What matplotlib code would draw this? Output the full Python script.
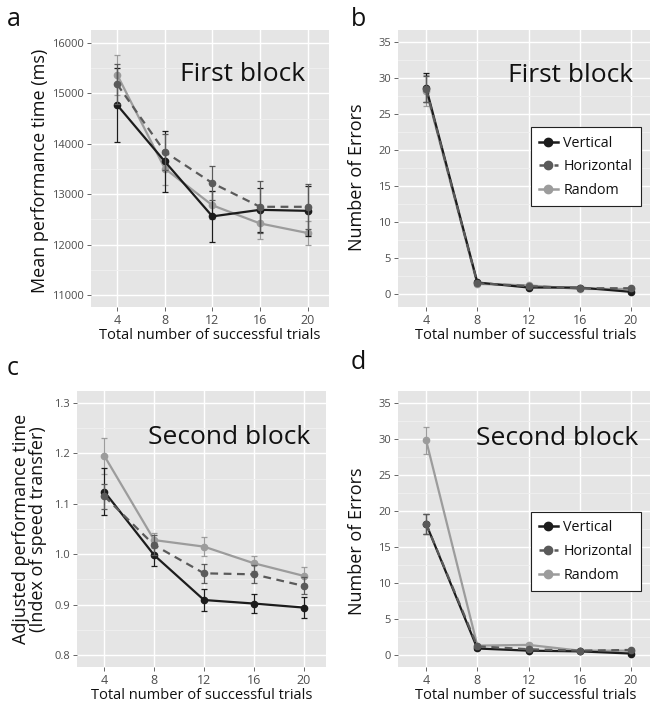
import matplotlib
matplotlib.use("Agg")
import matplotlib.pyplot as plt
from matplotlib.lines import Line2D
from matplotlib.ticker import MultipleLocator

plt.rcParams['font.family'] = ['Open Sans', 'DejaVu Sans']

# x positions (total number of successful trials)
trials = [4, 8, 12, 16, 20]
groups = ['Vertical', 'Horizontal', 'Random']

# a: mean performance time, first block (ms)
a_vert = [14770, 13650, 12560, 12690, 12670]
a_vert_err = [740, 610, 500, 430, 500]
a_horiz = [15180, 13840, 13220, 12750, 12750]
a_horiz_err = [400, 350, 340, 510, 450]
a_rand = [15370, 13510, 12780, 12420, 12230]
a_rand_err = [400, 330, 280, 300, 230]

# b: number of errors, first block
b_vert = [28.6, 1.6, 0.9, 0.9, 0.3]
b_vert_err = [2.0, 0.2, 0.2, 0.2, 0.2]
b_horiz = [28.4, 1.5, 1.1, 0.8, 0.8]
b_horiz_err = [1.8, 0.2, 0.2, 0.2, 0.2]
b_rand = [28.2, 1.4, 1.2, 0.7, 0.7]
b_rand_err = [2.2, 0.2, 0.2, 0.2, 0.2]

# c: adjusted performance time, second block
c_vert = [1.124, 0.998, 0.909, 0.902, 0.894]
c_vert_err = [0.047, 0.022, 0.022, 0.018, 0.021]
c_horiz = [1.115, 1.018, 0.962, 0.960, 0.937]
c_horiz_err = [0.025, 0.020, 0.019, 0.018, 0.017]
c_rand = [1.195, 1.028, 1.015, 0.982, 0.957]
c_rand_err = [0.035, 0.015, 0.019, 0.015, 0.017]

# d: number of errors, second block
d_vert = [18.2, 0.9, 0.6, 0.5, 0.2]
d_vert_err = [1.45, 0.2, 0.15, 0.15, 0.1]
d_horiz = [18.2, 1.2, 0.8, 0.6, 0.7]
d_horiz_err = [1.45, 0.2, 0.15, 0.15, 0.15]
d_rand = [29.8, 1.3, 1.4, 0.6, 0.6]
d_rand_err = [1.9, 0.2, 0.2, 0.15, 0.15]

colors = {'Vertical': '#1c1c1c', 'Horizontal': '#5a5a5a', 'Random': '#9c9c9c'}
styles = {'Vertical': '-', 'Horizontal': (0, (3.5, 2.5)), 'Random': '-'}
zorders = {'Vertical': 4, 'Horizontal': 5, 'Random': 3}
TXT = '#111111'

W, H = 650, 706
fig = plt.figure(figsize=(W / 100, H / 100), dpi=100)


def px_axes(left, top, right, bottom):
    return fig.add_axes([left / W, 1 - bottom / H, (right - left) / W, (bottom - top) / H])


def style_axes(ax, ylim, ymajor, yfmt=None):
    ax.set_facecolor('#e5e5e5')
    for s in ax.spines.values():
        s.set_visible(False)
    ax.set_xlim(1.8, 21.8)
    ax.set_ylim(*ylim)
    ax.set_xticks(trials)
    ax.yaxis.set_major_locator(MultipleLocator(ymajor))
    ax.yaxis.set_minor_locator(MultipleLocator(ymajor / 2))
    ax.grid(which='major', color='white', lw=1.0)
    ax.grid(which='minor', axis='y', color='#f0f0f0', lw=0.6)
    ax.tick_params(which='major', length=3, width=0.6, color='#4d4d4d',
                   labelcolor='#4d4d4d', pad=2)
    ax.tick_params(which='minor', length=0)
    ax.tick_params(axis='x', labelsize=9)
    ax.tick_params(axis='y', labelsize=8)
    if yfmt:
        ax.yaxis.set_major_formatter(yfmt)
    ax.set_axisbelow(True)
    ax.set_xlabel('Total number of successful trials', fontsize=10.5, color=TXT)
    ax.xaxis.set_label_coords(0.5, -0.075)


def draw(ax, vals, errs):
    for g in groups:
        ax.errorbar(trials, vals[g], yerr=errs[g], color=colors[g], ls=styles[g],
                    lw=1.6, marker='o', ms=4.5, capsize=2.2, elinewidth=0.9,
                    capthick=0.9, zorder=zorders[g])


def add_legend(ax, anchor):
    handles = [Line2D([], [], color=colors[g], ls=styles[g], lw=1.8, marker='o', ms=6)
               for g in groups]
    leg = ax.legend(handles, groups, loc='upper right', bbox_to_anchor=anchor,
                    borderaxespad=0, fontsize=10.3, frameon=True, fancybox=False,
                    handlelength=1.3, handletextpad=0.4, borderpad=0.6,
                    labelspacing=0.6)
    for t in leg.get_texts():
        t.set_color(TXT)
    leg.get_frame().set_edgecolor('#222222')
    leg.get_frame().set_linewidth(0.8)
    leg.get_frame().set_facecolor('white')
    leg.get_frame().set_alpha(1)


# panel a
ax_a = px_axes(91, 30, 329, 307)
style_axes(ax_a, (10762, 16258), 1000)
draw(ax_a, {'Vertical': a_vert, 'Horizontal': a_horiz, 'Random': a_rand},
     {'Vertical': a_vert_err, 'Horizontal': a_horiz_err, 'Random': a_rand_err})
ax_a.set_ylabel('Mean performance time (ms)', fontsize=13, color=TXT)
ax_a.yaxis.set_label_coords(-0.175, 0.49)
ax_a.text(0.9, 0.84, 'First block', transform=ax_a.transAxes, ha='right',
          va='center', fontsize=19, color=TXT)

# panel b
ax_b = px_axes(398, 30, 654, 307)
style_axes(ax_b, (-1.8, 36.6), 5)
draw(ax_b, {'Vertical': b_vert, 'Horizontal': b_horiz, 'Random': b_rand},
     {'Vertical': b_vert_err, 'Horizontal': b_horiz_err, 'Random': b_rand_err})
ax_b.set_ylabel('Number of Errors', fontsize=13, color=TXT)
ax_b.yaxis.set_label_coords(-0.125, 0.47)
ax_b.text(0.918, 0.835, 'First block', transform=ax_b.transAxes, ha='right',
          va='center', fontsize=19, color=TXT)
add_legend(ax_b, (0.949, 0.65))

# panel c
ax_c = px_axes(77, 391, 326, 667)
style_axes(ax_c, (0.776, 1.324), 0.1,
           plt.FuncFormatter(lambda v, p: f'{v:.1f}'))
draw(ax_c, {'Vertical': c_vert, 'Horizontal': c_horiz, 'Random': c_rand},
     {'Vertical': c_vert_err, 'Horizontal': c_horiz_err, 'Random': c_rand_err})
ax_c.set_ylabel('Adjusted performance time\n(Index of speed transfer)', fontsize=13,
                color=TXT, linespacing=0.95)
ax_c.yaxis.set_label_coords(-0.12, 0.5)
ax_c.text(0.936, 0.83, 'Second block', transform=ax_c.transAxes, ha='right',
          va='center', fontsize=19, color=TXT)

# panel d
ax_d = px_axes(398, 391, 654, 667)
style_axes(ax_d, (-1.67, 36.67), 5)
draw(ax_d, {'Vertical': d_vert, 'Horizontal': d_horiz, 'Random': d_rand},
     {'Vertical': d_vert_err, 'Horizontal': d_horiz_err, 'Random': d_rand_err})
ax_d.set_ylabel('Number of Errors', fontsize=13, color=TXT)
ax_d.yaxis.set_label_coords(-0.125, 0.457)
ax_d.text(0.9375, 0.827, 'Second block', transform=ax_d.transAxes, ha='right',
          va='center', fontsize=19, color=TXT)
add_legend(ax_d, (0.949, 0.562))

# panel letters
for lab, x, y in [('a', 7, 26), ('b', 351, 26), ('c', 7, 375), ('d', 351, 369)]:
    fig.text(x / W, 1 - y / H, lab, fontsize=18, color=TXT, ha='left', va='baseline')

fig.savefig('out.png', dpi=100)
